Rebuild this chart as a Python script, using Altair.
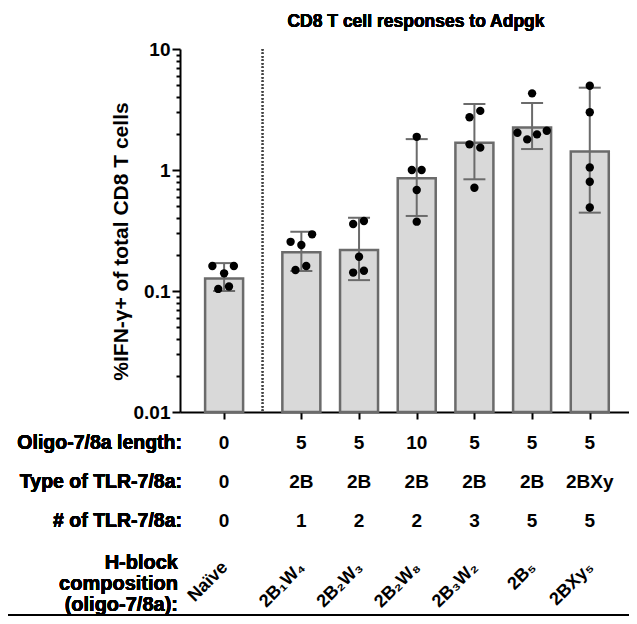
import altair as alt
import pandas as pd

# ---------------- data ----------------
groups = ["Naïve", "2B₁W₄", "2B₂W₃", "2B₂W₈", "2B₃W₂", "2B₅", "2BXy₅"]
oligo_length = ["0", "5", "5", "10", "5", "5", "5"]
tlr_type = ["0", "2B", "2B", "2B", "2B", "2B", "2BXy"]
tlr_count = ["0", "1", "2", "2", "3", "5", "5"]
means = [0.127, 0.209, 0.218, 0.853, 1.68, 2.25, 1.42]
err_low = [0.100, 0.146, 0.123, 0.417, 0.838, 1.49, 0.444]
err_high = [0.170, 0.309, 0.403, 1.80, 3.51, 3.58, 4.79]
points = [
    [0.161, 0.161, 0.140, 0.104, 0.109],
    [0.255, 0.240, 0.294, 0.149, 0.161],
    [0.358, 0.379, 0.192, 0.142, 0.147],
    [1.88, 1.00, 1.00, 0.684, 0.374],
    [2.73, 3.08, 1.63, 1.53, 0.714],
    [4.30, 2.03, 1.79, 1.97, 2.11],
    [4.97, 3.00, 1.05, 0.80, 0.49],
]
major_ticks = [0.01, 0.1, 1, 10]
row_labels = ["Oligo-7/8a length:", "Type of TLR-7/8a:", "# of TLR-7/8a:"]
hblock_label = ["H-block", "composition", "(oligo-7/8a):"]
title_text = "CD8 T cell responses to Adpgk"
y_title = "%IFN-γ+ of total CD8 T cells"

# ---------------- layout ----------------
W, H = 449, 363
unit = 59.0                      # pixels per group step
gap = 79.0 / unit                # wider gap after the naive group
gx = [0.0] + [gap + i for i in range(6)]
dmin = -40.0 / unit
dmax = dmin + W / unit
divider = 39.3 / unit
jitter_px = [
    [-12, 10, 0, -6, 5],
    [-11, 0, 11, -6, 5],
    [-6, 5, 0, -6, 5],
    [0, -5, 5, 0, 0],
    [-5, 6, -5, 6, 0],
    [0, -15, -5, 5, 15],
    [0, 0, 0, 0, 0],
]
minor_ticks = [round(m * k, 4) for m in major_ticks[:-1] for k in range(2, 10)]

FONT = "Liberation Sans"
GREY = "#6b6b6b"

bars = pd.DataFrame({
    "group": groups, "x": gx, "mean": means, "low": err_low, "high": err_high,
    "l1": oligo_length, "l2": tlr_type, "l3": tlr_count,
    "lx": [g + 1 / unit for g in gx],
})
pts = pd.DataFrame([
    {"group": groups[i], "x": gx[i] + jitter_px[i][j] / unit, "v": v}
    for i in range(len(groups)) for j, v in enumerate(points[i])
])

xs = alt.Scale(domain=[dmin, dmax], nice=False, zero=False)
ys = alt.Scale(type="log", domain=[0.01, 10], nice=False)

is_major = "indexof([0.01,0.1,1,10], datum.value) >= 0"
yaxis = alt.Axis(
    values=major_ticks + minor_ticks,
    labelExpr=f"{is_major} ? format(datum.value, '~g') : ''",
    labelOverlap=False, labelFlush=False,
    tickSize={"condition": {"test": is_major, "value": 8}, "value": 4},
    labelPadding=2, grid=False,
    title=y_title, titleAngle=270, titleAlign="center", titleBaseline="middle",
    titleX=-59, titleY=192,
)
xaxis = alt.Axis(values=gx, labels=False, tickSize=7, grid=False, title=None)

X = lambda f: alt.X(f, scale=xs, axis=xaxis)
Y = lambda f: alt.Y(f, scale=ys, axis=yaxis)

base = alt.Chart(bars)

bar_layer = base.mark_bar(size=38, fill="#d9d9d9", stroke=GREY, strokeWidth=2.5).encode(
    x=X("x:Q"), y=Y("mean:Q"), y2=alt.datum(0.01),
)
err_layer = base.mark_rule(color=GREY, strokeWidth=2).encode(
    x=X("x:Q"), y=Y("low:Q"), y2="high:Q",
)
cap_hi = base.mark_tick(orient="horizontal", size=22, thickness=2, color=GREY, opacity=1).encode(
    x=X("x:Q"), y=Y("high:Q"),
)
cap_lo = base.mark_tick(orient="horizontal", size=22, thickness=2, color=GREY, opacity=1).encode(
    x=X("x:Q"), y=Y("low:Q"),
)
dots = alt.Chart(pts).mark_circle(size=70, color="black", opacity=1).encode(
    x=X("x:Q"), y=Y("v:Q"),
)
div_layer = base.mark_rule(color="#444444", strokeWidth=1.5, strokeDash=[1.5, 2]).encode(
    x=alt.datum(divider, scale=xs, axis=xaxis), y=alt.value(0), y2=alt.value(H),
)

txt = dict(font=FONT, fontWeight="bold", color="black", baseline="middle")
row_y = [394, 433, 472]
rows = []
for field, ry in zip(["l1", "l2", "l3"], row_y):
    rows.append(base.mark_text(fontSize=19, align="center", **txt).encode(
        x=X("x:Q"), y=alt.value(ry), text=f"{field}:N"))
row_lab = []
for lab, ry in zip(row_labels, row_y):
    row_lab.append(base.mark_text(fontSize=19.5, align="right", text=lab, **txt).encode(
        x=alt.value(2), y=alt.value(ry)))
hblock = base.mark_text(fontSize=20, align="right", text=hblock_label, lineHeight=21, **txt).encode(
    x=alt.value(-2), y=alt.value(514))
rot = base.mark_text(fontSize=18, align="right", angle=315, **txt).encode(
    x=X("lx:Q"), y=alt.value(516), text="group:N")
title_layer = base.mark_text(fontSize=17.5, align="center", text=title_text, **txt).encode(
    x=alt.value(236), y=alt.value(-27))
bottom_line = base.mark_rule(color="black", strokeWidth=2).encode(
    x=alt.value(-180), x2=alt.value(W + 20), y=alt.value(566))

chart = alt.layer(
    bar_layer, div_layer, err_layer, cap_hi, cap_lo, dots,
    *rows, *row_lab, hblock, rot, title_layer, bottom_line,
).properties(
    width=W, height=H,
    autosize=alt.AutoSizeParams(type="none"),
    padding={"left": 172, "top": 41, "right": 0, "bottom": 204},
).configure(
    background="white",
    view=alt.ViewConfig(stroke=None),
    axis=alt.AxisConfig(
        labelFont=FONT, labelFontSize=19, labelFontWeight="bold", labelColor="black",
        titleFont=FONT, titleFontSize=21, titleFontWeight="bold", titleColor="black",
        tickWidth=2, tickColor="black", domainColor="black", domainWidth=2,
    ),
)

chart.save("out.html", embed_options={"renderer": "svg", "actions": False})
